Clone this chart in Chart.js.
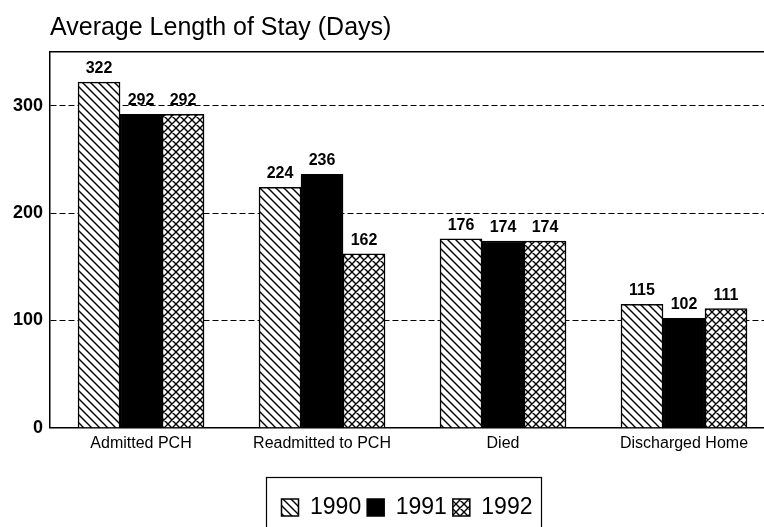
<!DOCTYPE html>
<html>
<head>
<meta charset="utf-8">
<script src="https://cdn.jsdelivr.net/npm/chart.js@4/dist/chart.umd.min.js"></script>
<style>
  body { margin: 0; background: #fff; }
  canvas { display: block; }
</style>
</head>
<body>
<canvas id="stay" width="764" height="527"></canvas>
<script>
const categories = ['Admitted PCH', 'Readmitted to PCH', 'Died', 'Discharged Home']
const years = ['1990', '1991', '1992']
const stay1990 = [322, 224, 176, 115]
const stay1991 = [292, 236, 174, 102]
const stay1992 = [292, 162, 174, 111]
const yTicks = [0, 100, 200, 300]

const FONT = '"Liberation Sans", Arial, sans-serif'

// hatch tiles: "\" lines, "/" lines, or both
function hatch(size, back, fwd) {
    const c = document.createElement('canvas')
    c.width = c.height = size
    const g = c.getContext('2d')
    g.fillStyle = '#fff'
    g.fillRect(0, 0, size, size)
    g.strokeStyle = '#000'
    g.lineWidth = 1.4
    g.beginPath()
    if (back) {
        g.moveTo(-1, -1); g.lineTo(size + 1, size + 1)
        g.moveTo(size - 1, -1); g.lineTo(size + 1, 1)
        g.moveTo(-1, size - 1); g.lineTo(1, size + 1)
    }
    if (fwd) {
        g.moveTo(size + 1, -1); g.lineTo(-1, size + 1)
        g.moveTo(-1, 1); g.lineTo(1, -1)
        g.moveTo(size - 1, size + 1); g.lineTo(size + 1, size - 1)
    }
    g.stroke()
    return g.createPattern(c, 'repeat')
}

const fills = [hatch(8, true, false), '#000', hatch(8, true, true)]
const series = [stay1990, stay1991, stay1992]

const barLabels = {
    id: 'barLabels',
    afterDatasetsDraw(chart) {
        const ctx = chart.ctx
        ctx.save()
        ctx.font = 'bold 16px ' + FONT
        ctx.fillStyle = '#000'
        ctx.textAlign = 'center'
        ctx.textBaseline = 'alphabetic'
        chart.data.datasets.forEach((ds, i) => {
            chart.getDatasetMeta(i).data.forEach((bar, j) => {
                ctx.fillText(ds.data[j].y, bar.x, bar.y - 9)
            })
        })
        ctx.restore()
    }
}

const legendFrame = {
    id: 'legendFrame',
    afterDraw(chart) {
        const hb = chart.legend.legendHitBoxes
        if (!hb || !hb.length) return
        const last = hb[hb.length - 1]
        const left = hb[0].left - 15
        const right = last.left + last.width + 9
        const cy = hb[0].top + hb[0].height / 2
        const ctx = chart.ctx
        ctx.save()
        ctx.strokeStyle = '#000'
        ctx.lineWidth = 1.2
        ctx.strokeRect(left, cy - 30, right - left, 100)
        ctx.restore()
    }
}

new Chart(document.getElementById('stay'), {
    type: 'bar',
    data: {
        datasets: years.map((y, i) => ({
            label: y,
            data: categories.map((c, j) => ({x: j, y: series[i][j]})),
            backgroundColor: fills[i],
            borderColor: '#000',
            borderWidth: 1.5,
            barThickness: 42
        }))
    },
    options: {
        responsive: false,
        devicePixelRatio: 1,
        animation: false,
        layout: {padding: {top: 0, right: 0, bottom: -2, left: 0}},
        scales: {
            x: {
                type: 'linear',
                offset: false,
                min: -0.503,
                max: 3.442,
                afterBuildTicks: s => { s.ticks = categories.map((c, i) => ({value: i})) },
                afterFit: s => { s.height += 31 },
                grid: {display: false, drawTicks: false},
                border: {display: true, color: '#000', width: 1.5},
                ticks: {
                    callback: v => categories[v],
                    color: '#000',
                    font: {family: FONT, size: 16},
                    padding: 6,
                    maxRotation: 0,
                    autoSkip: false
                }
            },
            xTop: {
                type: 'linear',
                position: 'top',
                grid: {display: false, drawTicks: false},
                ticks: {display: false},
                border: {display: true, color: '#000', width: 1.5}
            },
            y: {
                min: 0,
                max: 350,
                afterBuildTicks: s => { s.ticks = yTicks.map(v => ({value: v})) },
                afterFit: s => { s.width = 50 },
                grid: {
                    drawTicks: false,
                    color: c => (c.tick && c.tick.value > 0) ? '#000' : 'rgba(0,0,0,0)',
                    lineWidth: 1
                },
                border: {display: true, color: '#000', width: 1.5, dash: [6, 3]},
                ticks: {
                    color: '#000',
                    font: {family: FONT, size: 18, weight: 'bold'},
                    padding: 7
                }
            }
        },
        plugins: {
            title: {
                display: true,
                text: 'Average Length of Stay (Days)',
                align: 'start',
                fullSize: false,
                color: '#000',
                font: {family: FONT, size: 25, weight: 'normal'},
                padding: {top: 13, bottom: 9}
            },
            legend: {
                position: 'bottom',
                fullSize: false,
                labels: {
                    color: '#000',
                    font: {family: FONT, size: 23},
                    boxWidth: 17,
                    boxHeight: 17,
                    padding: 6
                }
            },
            tooltip: {enabled: false}
        }
    },
    plugins: [barLabels, legendFrame]
})
</script>
</body>
</html>
